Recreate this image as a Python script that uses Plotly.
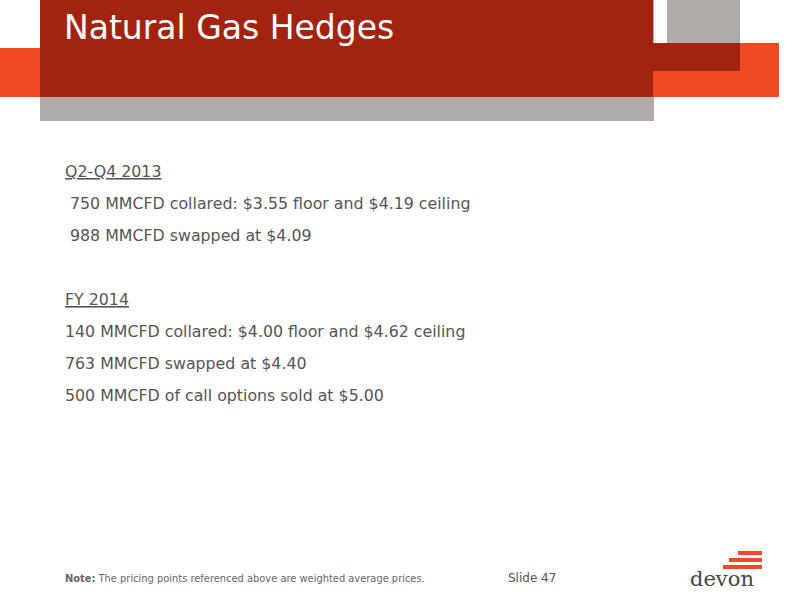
import plotly.graph_objects as go

title = "Natural Gas Hedges"
lines = ["Q2-Q4 2013",
         " 750 MMCFD collared: $3.55 floor and $4.19 ceiling",
         " 988 MMCFD swapped at $4.09",
         "",
         "FY 2014",
         "140 MMCFD collared: $4.00 floor and $4.62 ceiling",
         "763 MMCFD swapped at $4.40",
         "500 MMCFD of call options sold at $5.00"]
line_y = [171, 203, 235, 267, 299, 331, 363, 395]
underlined = [True, False, False, False, True, False, False, False]

DR, GR, OR = "#A32311", "#B0ABA6", "#F04A25"
fig = go.Figure()
rects = [(40, 0, 654, 121, GR), (667, 0, 740, 43, GR), (653, 43, 779, 97, OR),
         (0, 48, 40, 97, OR), (40, 0, 653, 97, DR), (653, 43, 740, 71, DR),
         (738, 551, 762, 555, OR), (729, 558, 762, 562, OR), (723, 565, 762, 569, OR)]
for x0, y0, x1, y1, c in rects:
    fig.add_shape(type="rect", x0=x0, y0=y0, x1=x1, y1=y1, fillcolor=c, line_width=0, layer="below")
anns = [dict(x=62, y=27, text=title, font=dict(size=33, color="white"))]
for t, y, u in zip(lines, line_y, underlined):
    if t:
        txt = t.replace(" ", "&nbsp;", 1) if t.startswith(" ") else t
        anns.append(dict(x=63, y=y, text=f"<u>{txt}</u>" if u else txt,
                         font=dict(size=15.8, color="#555555")))
anns.append(dict(x=63, y=578, text="<b>Note:</b> The pricing points referenced above are weighted average prices.",
                 font=dict(size=9.9, color="#666666")))
anns.append(dict(x=506, y=578, text="Slide 47", font=dict(size=12, color="#555555")))
anns.append(dict(x=688, y=579, text="devon", font=dict(size=21, color="#4A4246", family="DejaVu Serif")))
for a in anns:
    a.update(xref="x", yref="y", showarrow=False, xanchor="left", yanchor="middle")
    a["font"].setdefault("family", "DejaVu Sans")
fig.update_layout(annotations=anns, width=800, height=600, margin=dict(l=0, r=0, t=0, b=0),
                  plot_bgcolor="white", paper_bgcolor="white",
                  xaxis=dict(range=[0, 800], visible=False, fixedrange=True),
                  yaxis=dict(range=[600, 0], visible=False, fixedrange=True), showlegend=False)
fig.write_html("out.html", config={"displayModeBar": False},
               post_script="document.body.style.margin='0';")
